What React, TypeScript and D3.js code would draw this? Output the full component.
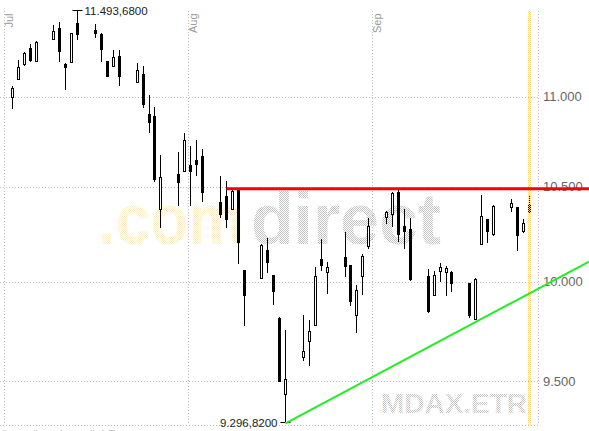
import React from 'react';
import * as d3 from 'd3';

const dates = [
  '2007-07-02','2007-07-03','2007-07-04','2007-07-05','2007-07-06',
  '2007-07-09','2007-07-10','2007-07-11','2007-07-12','2007-07-13',
  '2007-07-16','2007-07-17','2007-07-18','2007-07-19','2007-07-20',
  '2007-07-23','2007-07-24','2007-07-25','2007-07-26','2007-07-27',
  '2007-07-30','2007-07-31','2007-08-01','2007-08-02','2007-08-03',
  '2007-08-06','2007-08-07','2007-08-08','2007-08-09','2007-08-10',
  '2007-08-13','2007-08-14','2007-08-15','2007-08-16','2007-08-17',
  '2007-08-20','2007-08-21','2007-08-22','2007-08-23','2007-08-24',
  '2007-08-27','2007-08-28','2007-08-29','2007-08-30','2007-08-31',
  '2007-09-03','2007-09-04','2007-09-05','2007-09-06','2007-09-07',
  '2007-09-10','2007-09-11','2007-09-12','2007-09-13','2007-09-14',
  '2007-09-17','2007-09-18','2007-09-19','2007-09-20','2007-09-21',
  '2007-09-24','2007-09-25','2007-09-26','2007-09-27',
];
const opens = [
  10996,11098,11180,11275,11202, 11326,11394,11184,11193,11423,
  11379,11358,11202,11170,11231, 11079,11128,10898,10885,10378,
  10566,10585,10616,10643,10665, 10417,10448,10378,10487,10057,
  10016,10162,10030,9813,9436, 9618,9696,9779,10115,10045,
  10124,10083,9829,10027,10185, 10335,10352,10469,10290,10273,
  10024,9930,10050,10048,10045, 9992,9808,10194,10326,10247,
  10387,10387,10259,10405,
];
const highs = [
  11060,11208,11255,11303,11316, 11413,11430,11189,11364,11493.68,
  11421,11366,11205,11269,11265, 11189,11174,11009,10938,10676,
  10689,10798,10721,10754,10704, 10560,10534,10484,10490,10060,
  10194,10225,10032,9818,9753, 9828,9803,10074,10220,10103,
  10261,10085,9983,10141,10335, 10373,10475,10484,10382,10335,
  10066,10053,10097,10083,10053, 9995,10018,10457,10330,10400,
  10436,10390,10326,10457,
];
const lows = [
  10929,11094,11176,11198,11198, 11322,11198,11037,11189,11326,
  11337,11195,11110,11168,11060, 11075,10935,10796,10529,10282,
  10396,10582,10396,10560,10417, 10335,10282,10376,10092,9774,
  10013,10045,9883,9495,9296.82, 9598,9573,9775,10053,9938,
  10024,9874,9737,9933,10171, 10299,10283,10206,10171,10004,
  9838,9928,10000,9928,9945, 9813,9803,10190,10199,10236,
  10364,10159,10255,10361,
];
const closes = [
  11047,11166,11246,11208,11311, 11375,11255,11166,11360,11355,
  11364,11271,11113,11223,11113, 11151,10957,10852,10538,10553,
  10523,10752,10584,10621,10469, 10352,10326,10475,10203,9928,
  10188,10101,9950,9501,9510, 9646,9746,10024,10085,10071,
  10079,9900,9953,10129,10290, 10361,10466,10247,10259,10013,
  9846,10030,10074,10066,9992, 9828,10013,10343,10264,10396,
  10408,10238,10304,10361,
];

const yTicks = [9500, 10000, 10500, 11000];
const monthLabels = ['Jul', 'Aug', 'Sep'];
const monthStarts = ['2007-07-01', '2007-08-01', '2007-09-01'];
const xDomain = ['2007-07-01', '2007-09-29'];
const highLabel = '11.493,6800';
const lowLabel = '9.296,8200';
const resistanceLevel = 10490;
const resistanceStart = '2007-08-07';
const trendDates = ['2007-08-17', '2007-09-18'];
const trendValues = [9296.82, 9794];
const highlightDate = '2007-09-27';
const watermarkA = '.com';
const watermarkB = 'direct';
const symbolLabel = 'MDAX.ETR';
const footerA = '© comdirect';
const footerB = 'Intervall: 1 Tag';

const W = 589;
const H = 431;
const FONT = '"Liberation Sans", Arial, sans-serif';

const parse = (s: string) => new Date(s + 'T00:00:00Z');
const HALF_DAY = 12 * 3600 * 1000;

export default function App() {
  const plotLeft = 3.5;
  const plotRight = 538.1;
  const plotTop = 11;
  const plotBottom = 425;

  const x = d3.scaleUtc().domain(xDomain.map(parse)).range([plotLeft, plotRight]);
  const y = d3.scaleLog().domain([9500, 11000]).range([381.3, 96.5]);
  const cx = (s: string) => Math.floor(x(new Date(parse(s).getTime() + HALF_DAY))) + 0.5;

  const candles = dates.map((d, i) => ({
    d, o: opens[i], h: highs[i], l: lows[i], c: closes[i],
  }));

  const hiIdx = d3.maxIndex(highs);
  const loIdx = d3.minIndex(lows);
  const hiX = cx(dates[hiIdx]);
  const hiY = y(highs[hiIdx]);
  const loX = cx(dates[loIdx]);
  const loY = y(lows[loIdx]);

  const t0x = cx(trendDates[0]);
  const t0y = y(trendValues[0]);
  const t1x = cx(trendDates[1]);
  const t1y = y(trendValues[1]);
  const slope = (t1y - t0y) / (t1x - t0x);
  const tEndY = t0y + slope * (W - t0x);

  const resY = y(resistanceLevel);
  const resX = cx(resistanceStart);

  const hlX = cx(highlightDate);

  return (
    <svg width={W} height={H} style={{ position: 'absolute', left: 0, top: 0, background: '#fff' }}>
      <defs>
        <pattern id="greyDots" width="2" height="2" patternUnits="userSpaceOnUse">
          <rect x="0" y="0" width="1" height="1" fill="#c4c4c4" />
          <rect x="1" y="1" width="1" height="1" fill="#c4c4c4" />
        </pattern>
        <pattern id="yellowDots" width="2" height="2" patternUnits="userSpaceOnUse">
          <rect x="0" y="0" width="1" height="1" fill="#fbeccb" />
          <rect x="1" y="1" width="1" height="1" fill="#fbeccb" />
        </pattern>
        <pattern id="hlDots" width="2" height="2" patternUnits="userSpaceOnUse">
          <rect x="0" y="0" width="1" height="1" fill="#ffd77a" />
          <rect x="1" y="1" width="1" height="1" fill="#ffd77a" />
        </pattern>
      </defs>
      <rect x={0} y={0} width={W} height={H} fill="#fff" />

      {/* watermark */}
      <text x={98} y={244} fontFamily={FONT} fontWeight="bold" fontSize={72}
        textLength={146} lengthAdjust="spacingAndGlyphs" fill="url(#yellowDots)">{watermarkA}</text>
      <text x={251} y={244} fontFamily={FONT} fontWeight="bold" fontSize={72}
        textLength={190} lengthAdjust="spacingAndGlyphs" fill="url(#greyDots)">{watermarkB}</text>
      <text x={381} y={413} fontFamily={FONT} fontWeight="bold" fontSize={28}
        textLength={146} lengthAdjust="spacingAndGlyphs" fill="url(#greyDots)">{symbolLabel}</text>

      {/* horizontal grid */}
      {yTicks.map((t) => (
        <line key={'hg' + t} x1={0} x2={plotRight} y1={Math.round(y(t)) + 0.5} y2={Math.round(y(t)) + 0.5}
          stroke="#bdbdbd" strokeDasharray="1,2" />
      ))}
      <line x1={0} x2={plotRight} y1={plotBottom + 0.5} y2={plotBottom + 0.5} stroke="#bdbdbd" strokeDasharray="1,2" />

      {/* vertical grid */}
      {monthStarts.map((m) => (
        <line key={'vg' + m} x1={Math.round(x(parse(m))) + 0.5} x2={Math.round(x(parse(m))) + 0.5}
          y1={plotTop} y2={plotBottom} stroke="#bdbdbd" strokeDasharray="1,2" />
      ))}
      <line x1={Math.round(plotRight) + 0.5} x2={Math.round(plotRight) + 0.5} y1={plotTop} y2={plotBottom}
        stroke="#bdbdbd" strokeDasharray="1,2" />

      {/* month labels */}
      {monthStarts.map((m, i) => (
        <text key={'ml' + m} transform={`translate(${x(parse(m)) + 9},${13.5}) rotate(-90)`}
          textAnchor="end" fontFamily={FONT} fontSize={11} fill="#999">{monthLabels[i]}</text>
      ))}

      {/* y labels */}
      {yTicks.map((t) => (
        <text key={'yl' + t} x={543} y={y(t) + 4.5} fontFamily={FONT} fontSize={13} fill="#666">
          {d3.format(',')(t).replace(/,/g, '.')}
        </text>
      ))}

      {/* candles */}
      <g shapeRendering="crispEdges">
        {candles.map((k) => {
          const px = cx(k.d);
          const up = k.c >= k.o;
          const top = y(Math.max(k.o, k.c));
          const bot = y(Math.min(k.o, k.c));
          return (
            <g key={k.d}>
              <line x1={px} x2={px} y1={y(k.h)} y2={y(k.l)} stroke="#000" strokeWidth={1} />
              <rect x={px - 1} y={top} width={2} height={Math.max(1, bot - top)}
                fill={up ? '#fff' : '#000'} stroke="#000" strokeWidth={1} />
            </g>
          );
        })}
      </g>

      {/* highlight column */}
      <rect x={hlX - 1.5} y={plotTop} width={3} height={plotBottom - plotTop} fill="url(#hlDots)" />

      {/* high / low markers */}
      <line x1={hiX - 5} x2={hiX + 5} y1={Math.round(hiY) - 0.5} y2={Math.round(hiY) - 0.5} stroke="#000" />
      <text x={hiX + 7} y={hiY + 4} fontFamily={FONT} fontSize={11.5} fill="#222">{highLabel}</text>
      <line x1={loX - 5} x2={loX + 5} y1={Math.round(loY) - 0.5} y2={Math.round(loY) - 0.5} stroke="#000" />
      <text x={loX - 8} y={loY + 4} textAnchor="end" fontFamily={FONT} fontSize={11.5} fill="#222">{lowLabel}</text>

      {/* resistance line */}
      <line x1={resX} x2={W} y1={resY} y2={resY} stroke="#ff0000" strokeWidth={3} />

      {/* trend line */}
      <line x1={t0x} y1={t0y} x2={W} y2={tEndY} stroke="#22ee22" strokeWidth={2} />

      {/* footer (cut off at the bottom edge, as in the reference) */}
      <text x={1} y={438} fontFamily={FONT} fontSize={10} fill="#c4c4c4">{footerA}</text>
      <text x={60} y={438} fontFamily={FONT} fontSize={10} fill="#c4c4c4">{footerB}</text>
    </svg>
  );
}
